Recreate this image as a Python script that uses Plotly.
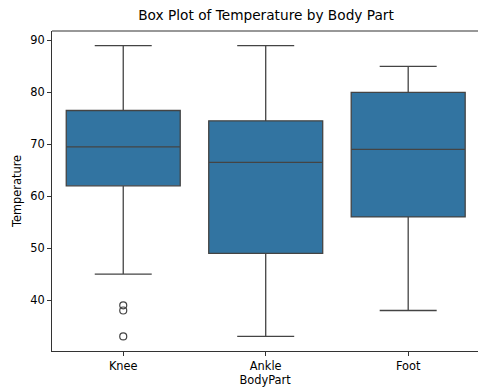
import plotly.graph_objects as go

categories = ["Knee", "Ankle", "Foot"]
q1_vals = [62.0, 49.0, 56.0]
median_vals = [69.5, 66.5, 69.0]
q3_vals = [76.5, 74.5, 80.0]
lower_whisker = [45.0, 33.0, 38.0]
upper_whisker = [89.0, 89.0, 85.0]

outlier_cats = ["Knee", "Knee", "Knee"]
outlier_vals = [39.0, 38.0, 33.0]

y_ticks = [40, 50, 60, 70, 80, 90]

FONT = "DejaVu Sans"
LINE = "#444444"
FILL = "#3274a1"

fig = go.Figure()
fig.add_trace(go.Box(
    x=categories,
    q1=q1_vals, median=median_vals, q3=q3_vals,
    lowerfence=lower_whisker, upperfence=upper_whisker,
    fillcolor=FILL,
    line=dict(color=LINE, width=1.3),
    width=0.8,
    whiskerwidth=0.5,
    boxpoints=False,
    showlegend=False,
    hoverinfo="skip",
))
fig.add_trace(go.Scatter(
    x=outlier_cats, y=outlier_vals, mode="markers",
    marker=dict(symbol="circle-open", size=7, color=LINE, line=dict(width=1.2, color=LINE)),
    showlegend=False, hoverinfo="skip",
))

fig.update_layout(
    width=478, height=388,
    margin=dict(l=52, r=0, t=31, b=37),
    paper_bgcolor="white", plot_bgcolor="white",
    font=dict(family=FONT, size=11.4, color="#000000"),
    title=dict(text="Box Plot of Temperature by Body Part", x=(52 + 480) / 2 / 478, xanchor="center",
               y=1 - 15 / 388, yanchor="middle", yref="container",
               font=dict(family=FONT, size=13.7, color="#000000")),
    xaxis=dict(
        type="category", categoryorder="array", categoryarray=categories,
        range=[-0.5, 2.49], showgrid=False, zeroline=False,
        showline=True, linecolor="#333333", linewidth=1.1,
        ticks="outside", ticklen=4, tickwidth=1.1, tickcolor="#333333",
        title=dict(text="BodyPart", standoff=4, font=dict(size=11.4)),
    ),
    yaxis=dict(
        range=[30.2, 91.8], tickvals=y_ticks, showgrid=False, zeroline=False,
        showline=True, linecolor="#333333", linewidth=1.1,
        ticks="outside", ticklen=4, tickwidth=1.1, tickcolor="#333333",
        title=dict(text="Temperature", standoff=6, font=dict(size=11.4)),
    ),
    shapes=[dict(type="line", xref="paper", yref="paper", x0=0, x1=1, y0=1, y1=1,
                 line=dict(color="#333333", width=1.1))],
)

fig.write_html("out.html")
